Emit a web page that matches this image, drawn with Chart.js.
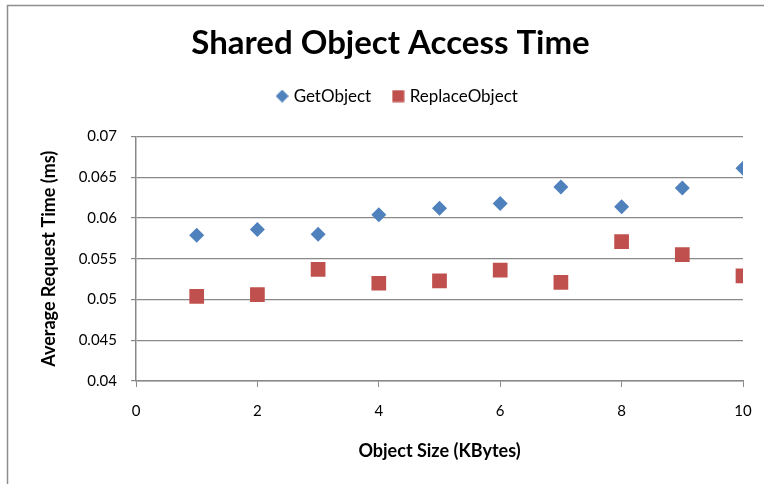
<!DOCTYPE html>
<html>
<head>
<meta charset="utf-8">
<script src="https://cdn.jsdelivr.net/npm/chart.js@4/dist/chart.umd.min.js"></script>
<style>
  html, body { margin: 0; padding: 0; background: #fff; }
  #wrap { position: relative; width: 764px; height: 484px; }
</style>
</head>
<body>
<div id="wrap"><canvas id="accessChart" width="764" height="484"></canvas></div>
<script>
(function(){
  // values
  const sizes = [1, 2, 3, 4, 5, 6, 7, 8, 9, 10];
  const getObject = [0.0579, 0.0586, 0.0580, 0.0604, 0.0612, 0.0618, 0.0638, 0.0614, 0.0637, 0.0661];
  const replaceObject = [0.0504, 0.0506, 0.0537, 0.0520, 0.0523, 0.0536, 0.0521, 0.0571, 0.0555, 0.0529];
  const yTicks = [0.04, 0.045, 0.05, 0.055, 0.06, 0.065, 0.07];
  const xTicks = [0, 2, 4, 6, 8, 10];

  const font = 'Lato, "Open Sans", sans-serif';
  const gridColor = '#898989';
  const blue = '#4F81BD';
  const red = '#C0504D';

  const toPoints = (xs, ys) => xs.map((x, i) => ({ x, y: ys[i] }));

  // small legend markers, diamond and square of about the same size
  function marker(kind, color){
    const c = document.createElement('canvas');
    c.width = 13; c.height = 13;
    const g = c.getContext('2d');
    g.fillStyle = color;
    if (kind === 'diamond') {
      g.beginPath();
      g.moveTo(6.5, 0); g.lineTo(13, 6.5); g.lineTo(6.5, 13); g.lineTo(0, 6.5);
      g.closePath(); g.fill();
    } else {
      g.fillRect(0.5, 0.5, 12, 12);
    }
    return c;
  }
  const legendMarks = [marker('diamond', blue), marker('square', red)];

  // gray frame of the chart object (left and top edges show)
  const frame = {
    id: 'frame',
    beforeDraw(chart){
      const ctx = chart.ctx;
      ctx.save();
      ctx.fillStyle = '#fff';
      ctx.fillRect(0, 0, chart.width, chart.height);
      ctx.strokeStyle = '#8e8e8e';
      ctx.lineWidth = 1.5;
      ctx.strokeRect(7.5, 5.5, 900, 700);
      ctx.restore();
    }
  };

  // extra room under the legend, and nudge title/legend a bit right
  const legendGap = {
    id: 'legendGap',
    beforeInit(chart){
      const fit = chart.legend.fit;
      chart.legend.fit = function(){
        fit.bind(chart.legend)();
        this.height += 22;
      };
    },
    afterLayout(chart){
      chart.legend.left += 12; chart.legend.right += 12;
      chart.titleBlock.left += 4; chart.titleBlock.right += 4;
    }
  };

  new Chart(document.getElementById('accessChart'), {
    type: 'scatter',
    data: {
      datasets: [
        {
          label: 'GetObject',
          data: toPoints(sizes, getObject),
          pointStyle: 'rectRot',
          pointRadius: 7.5,
          pointHoverRadius: 7.5,
          backgroundColor: blue,
          borderColor: blue,
          borderWidth: 0
        },
        {
          label: 'ReplaceObject',
          data: toPoints(sizes, replaceObject),
          pointStyle: 'rect',
          pointRadius: 10.4,
          pointHoverRadius: 10.4,
          backgroundColor: red,
          borderColor: red,
          borderWidth: 0
        }
      ]
    },
    options: {
      responsive: false,
      animation: false,
      layout: { padding: { left: 30, right: 21, top: 0, bottom: 20 } },
      plugins: {
        title: {
          display: true,
          text: 'Shared Object Access Time',
          color: '#000',
          font: { family: font, size: 33, weight: 'bold' },
          padding: { top: 24, bottom: 0 }
        },
        legend: {
          display: true,
          labels: {
            usePointStyle: true,
            boxWidth: 6,
            boxHeight: 6,
            padding: 24,
            color: '#000',
            font: { family: font, size: 17 },
            generateLabels(chart){
              const items = Chart.defaults.plugins.legend.labels.generateLabels(chart);
              items.forEach((it, i) => { it.pointStyle = legendMarks[i]; });
              return items;
            }
          }
        },
        tooltip: { enabled: false }
      },
      scales: {
        x: {
          type: 'linear',
          min: 0,
          max: 10,
          afterBuildTicks(scale){ scale.ticks = xTicks.map(v => ({ value: v })); },
          afterFit(scale){ scale.height = 83; scale.paddingRight = 10; },
          grid: { drawOnChartArea: false, drawTicks: true, tickLength: 6, color: gridColor },
          border: { color: gridColor, width: 1.5 },
          ticks: { color: '#000', padding: 15, font: { family: font, size: 15 } },
          title: {
            display: true,
            text: 'Object Size (KBytes)',
            color: '#000',
            font: { family: font, size: 18, weight: 'bold' },
            padding: { top: 0, bottom: 2 }
          }
        },
        y: {
          type: 'linear',
          min: 0.04,
          max: 0.07,
          afterBuildTicks(scale){ scale.ticks = yTicks.map(v => ({ value: v })); },
          afterFit(scale){ scale.width = 106; },
          grid: { color: gridColor, lineWidth: 1.2, drawTicks: true, tickLength: 5 },
          border: { color: gridColor, width: 1.5 },
          ticks: {
            color: '#000',
            padding: 14,
            font: { family: font, size: 15 },
            callback: v => String(Number(v.toFixed(3)))
          },
          title: {
            display: true,
            text: 'Average Request Time (ms)',
            color: '#000',
            font: { family: font, size: 18, weight: 'bold' },
            padding: { top: 8, bottom: 0 }
          }
        }
      }
    },
    plugins: [frame, legendGap]
  });
})();
</script>
</body>
</html>
